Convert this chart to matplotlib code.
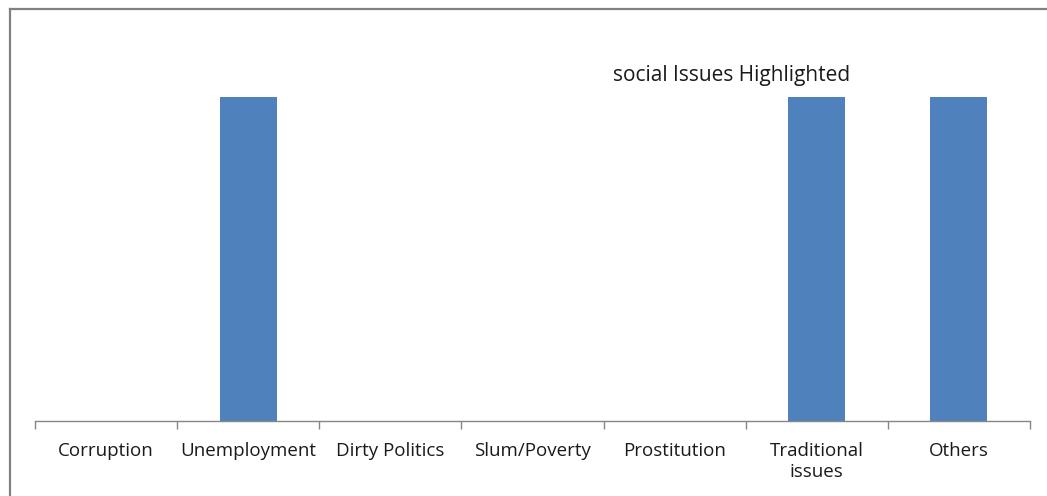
import matplotlib
matplotlib.use("Agg")
import matplotlib.pyplot as plt
from matplotlib.lines import Line2D
import numpy as np

categories = ["Corruption", "Unemployment", "Dirty Politics", "Slum/Poverty",
              "Prostitution", "Traditional\nissues", "Others"]
values = [0, 1, 0, 0, 0, 1, 1]
title = "social Issues Highlighted"

W, H = 1047, 496
fig = plt.figure(figsize=(W / 100, H / 100), dpi=100)
fig.patch.set_facecolor("white")

left, right, bottom_px, top_px = 35, 1030, 421, 32
ax = fig.add_axes([left / W, 1 - bottom_px / H, (right - left) / W, (bottom_px - top_px) / H])

x = np.arange(len(categories))
ax.bar(x, values, width=0.4, color="#4F81BD", linewidth=0, zorder=2)
ax.set_xlim(-0.5, len(categories) - 0.5)
ax.set_ylim(0, 1.2)

for s in ["top", "right", "left"]:
    ax.spines[s].set_visible(False)
ax.spines["bottom"].set_color("#868686")
ax.spines["bottom"].set_linewidth(1.0)
ax.spines["bottom"].set_zorder(3)
ax.set_yticks([])

ax.set_xticks(x)
ax.set_xticklabels(categories, fontsize=13.5, family=["Open Sans", "DejaVu Sans"],
                   color="#1a1a1a", linespacing=1.22)
ax.tick_params(axis="x", which="major", length=0, pad=15)
ax.set_xticks(np.arange(-0.5, len(categories)), minor=True)
ax.tick_params(axis="x", which="minor", length=6, color="#868686", width=1.0)

fig.text(732 / W, 1 - 75 / H, title, ha="center", va="center", fontsize=15,
         family=["Open Sans", "DejaVu Sans"], color="#1a1a1a")

# outer border (top and left)
fig.add_artist(Line2D([10 / W, 10 / W], [0, 1 - 8.5 / H], color="#808080", lw=1.6,
                      transform=fig.transFigure))
fig.add_artist(Line2D([10 / W, 1], [1 - 8.5 / H, 1 - 8.5 / H], color="#808080", lw=1.6,
                      transform=fig.transFigure))

fig.savefig("out.png", dpi=100)
